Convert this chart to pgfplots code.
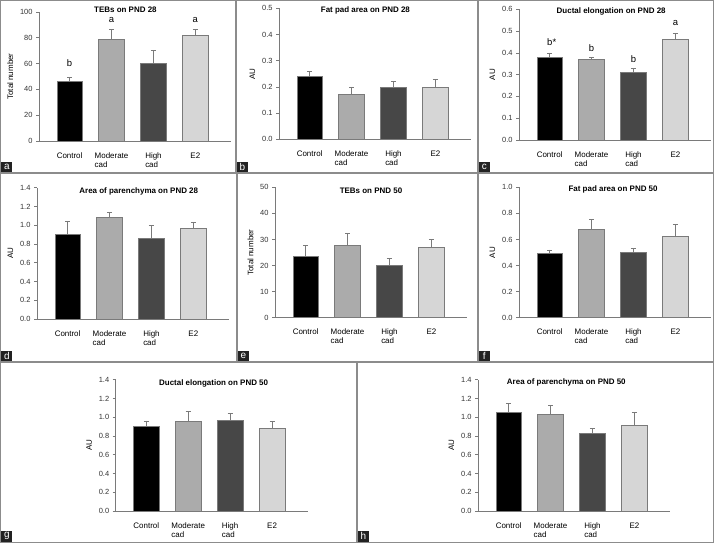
\documentclass[border=0pt]{standalone}
\usepackage{fontspec}
\setmainfont{Liberation Sans}
\usepackage{pgfplots}
\pgfplotsset{compat=1.18}
\definecolor{cA}{HTML}{000000}
\definecolor{cB}{HTML}{ABABAB}
\definecolor{cC}{HTML}{474747}
\definecolor{cD}{HTML}{D6D6D6}
\definecolor{edge}{HTML}{7A7A7A}
\definecolor{frame}{HTML}{8C8C8C}
\definecolor{lab}{HTML}{222222}
\tikzset{ann/.style={font=\fontsize{9.5}{10}\selectfont}}
\pgfplotsset{
  panel/.style={
    scale only axis, width=192bp,
    xmin=-0.73, xmax=3.85, ymin=0,
    axis x line*=bottom, axis y line*=left,
    axis line style={draw=edge, line width=0.7bp},
    ybar, bar width=25.5bp, bar shift=0pt,
    xtick={0,1,2,3},
    xticklabels={Control,{Moderate\\cad},{High\\cad},E2},
    xtick style={draw=none},
    xticklabel style={align=left, font=\fontsize{8}{9}\selectfont, yshift=-5bp, text=black},
    ytick style={draw=edge, line width=0.7bp},
    tick align=outside, major tick length=3bp,
    yticklabel style={font=\fontsize{7.5}{8}\selectfont, text=black!80},
    /pgf/number format/assume math mode=true,
    ylabel style={font=\fontsize{8}{9}\selectfont},
    every axis title shift=0pt,
    title style={font=\bfseries\fontsize{8}{9}\selectfont, anchor=center},
    every axis plot/.append style={draw=edge, line width=0.6bp, bar shift=0pt,
       error bars/y dir=plus, error bars/y explicit,
       error bars/error bar style={draw=edge, line width=0.7bp},
       error bars/error mark options={draw=edge, rotate=90, mark size=2.5bp, line width=0.7bp}},
    clip=false,
  },
  au/.style={yticklabel style={/pgf/number format/.cd, fixed, fixed zerofill, precision=1}},
}
\begin{document}
\begin{tikzpicture}[x=1bp,y=1bp]
\path[use as bounding box] (0,0) rectangle (714,543);
\fill[white] (0,0) rectangle (714,543);

% a
\begin{axis}[panel, at={(39bp,402bp)}, anchor=south west, height=129bp,
  ymax=100, ytick={0,20,...,100}, ylabel={Total number},
  title={TEBs on PND 28}, title style={at={(axis description cs:0.45,1.021)}}]
\addplot[fill=cA] coordinates {(0,46) +- (0,3.6)};
\addplot[fill=cB] coordinates {(1,79) +- (0,7.5)};
\addplot[fill=cC] coordinates {(2,60) +- (0,10)};
\addplot[fill=cD] coordinates {(3,82) +- (0,4.2)};
\node[ann] at (axis cs:0,60) {b};
\node[ann] at (axis cs:1,93.5) {a};
\node[ann] at (axis cs:3,93.5) {a};
\end{axis}

% b
\begin{axis}[panel, au, at={(279bp,403.7bp)}, anchor=south west, height=131bp,
  ymax=0.5, ytick={0,0.1,...,0.5}, ylabel={AU},
  title={Fat pad area on PND 28}, title style={at={(axis description cs:0.45,0.987)}}]
\addplot[fill=cA] coordinates {(0,0.24) +- (0,0.02)};
\addplot[fill=cB] coordinates {(1,0.17) +- (0,0.03)};
\addplot[fill=cC] coordinates {(2,0.20) +- (0,0.022)};
\addplot[fill=cD] coordinates {(3,0.20) +- (0,0.03)};
\end{axis}

% c
\begin{axis}[panel, au, at={(519bp,403bp)}, anchor=south west, height=130.7bp,
  ymax=0.6, ytick={0,0.1,...,0.6}, ylabel={AU},
  title={Ductal elongation on PND 28}, title style={at={(axis description cs:0.48,0.982)}}]
\addplot[fill=cA] coordinates {(0,0.38) +- (0,0.02)};
\addplot[fill=cB] coordinates {(1,0.37) +- (0,0.01)};
\addplot[fill=cC] coordinates {(2,0.31) +- (0,0.02)};
\addplot[fill=cD] coordinates {(3,0.46) +- (0,0.03)};
\node[ann] at (axis cs:0.05,0.45) {b*};
\node[ann] at (axis cs:1,0.424) {b};
\node[ann] at (axis cs:2,0.372) {b};
\node[ann] at (axis cs:3,0.536) {a};
\end{axis}

% d
\begin{axis}[panel, au, at={(37bp,224bp)}, anchor=south west, height=131.3bp,
  ymax=1.4, ytick={0,0.2,...,1.4}, ylabel={AU},
  title={Area of parenchyma on PND 28}, title style={at={(axis description cs:0.53,0.975)}}]
\addplot[fill=cA] coordinates {(0,0.90) +- (0,0.14)};
\addplot[fill=cB] coordinates {(1,1.08) +- (0,0.06)};
\addplot[fill=cC] coordinates {(2,0.86) +- (0,0.14)};
\addplot[fill=cD] coordinates {(3,0.97) +- (0,0.06)};
\end{axis}

% e
\begin{axis}[panel, at={(275bp,225.3bp)}, anchor=south west, height=130.4bp,
  ymax=50, ytick={0,10,...,50}, ylabel={Total number},
  title={TEBs on PND 50}, title style={at={(axis description cs:0.5,0.975)}}]
\addplot[fill=cA] coordinates {(0,23.4) +- (0,4.2)};
\addplot[fill=cB] coordinates {(1,27.9) +- (0,4.5)};
\addplot[fill=cC] coordinates {(2,20.1) +- (0,2.7)};
\addplot[fill=cD] coordinates {(3,27.1) +- (0,2.9)};
\end{axis}

% f
\begin{axis}[panel, au, at={(519bp,225.3bp)}, anchor=south west, height=130.4bp,
  ymax=1.0, ytick={0,0.2,...,1.0}, ylabel={AU},
  title={Fat pad area on PND 50}, title style={at={(axis description cs:0.49,0.987)}}]
\addplot[fill=cA] coordinates {(0,0.49) +- (0,0.03)};
\addplot[fill=cB] coordinates {(1,0.675) +- (0,0.08)};
\addplot[fill=cC] coordinates {(2,0.50) +- (0,0.03)};
\addplot[fill=cD] coordinates {(3,0.625) +- (0,0.09)};
\end{axis}

% g
\begin{axis}[panel, au, at={(115.7bp,32bp)}, anchor=south west, height=131.3bp,
  ymax=1.4, ytick={0,0.2,...,1.4}, ylabel={AU},
  title={Ductal elongation on PND 50}, title style={at={(axis description cs:0.51,0.973)}}]
\addplot[fill=cA] coordinates {(0,0.90) +- (0,0.06)};
\addplot[fill=cB] coordinates {(1,0.955) +- (0,0.105)};
\addplot[fill=cC] coordinates {(2,0.97) +- (0,0.07)};
\addplot[fill=cD] coordinates {(3,0.88) +- (0,0.075)};
\end{axis}

% h
\begin{axis}[panel, au, at={(478bp,32bp)}, anchor=south west, height=131.3bp,
  ymax=1.4, ytick={0,0.2,...,1.4}, ylabel={AU},
  title={Area of parenchyma on PND 50}, title style={at={(axis description cs:0.46,0.977)}}]
\addplot[fill=cA] coordinates {(0,1.05) +- (0,0.10)};
\addplot[fill=cB] coordinates {(1,1.03) +- (0,0.095)};
\addplot[fill=cC] coordinates {(2,0.83) +- (0,0.05)};
\addplot[fill=cD] coordinates {(3,0.91) +- (0,0.14)};
\end{axis}

% frames
\begin{scope}[draw=frame, line width=1.2bp]
\draw (0.6,0.6) rectangle (713.4,542.4);
\draw (0,370) -- (714,370);
\draw (0,181) -- (714,181);
\draw (236,543) -- (236,370);
\draw (478,543) -- (478,370);
\draw (237,370) -- (237,181);
\draw (478,370) -- (478,181);
\draw (357,181) -- (357,0);
\end{scope}
\tikzset{plab/.style={fill=lab, text=white, minimum width=11bp, minimum height=10.5bp, inner sep=0pt, anchor=south west, font=\fontsize{10}{10}\selectfont}}
\node[plab] at (1.2,370.6) {a};
\node[plab] at (236.6,370.6) {b};
\node[plab] at (478.6,370.6) {c};
\node[plab] at (1.2,181.6) {d};
\node[plab] at (237.6,181.6) {e};
\node[plab] at (478.6,181.6) {f};
\node[plab] at (1.2,1.2) {g};
\node[plab] at (357.6,1.2) {h};
\end{tikzpicture}
\end{document}
